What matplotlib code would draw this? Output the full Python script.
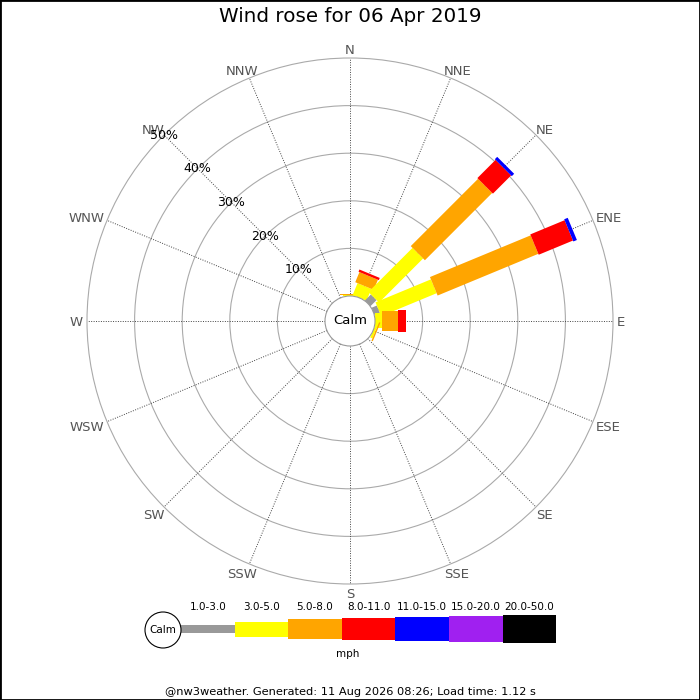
import numpy as np
import matplotlib.pyplot as plt
from matplotlib.patches import Polygon, Circle, Rectangle

# Wind directions and speed bins (mph)
directions = ['N', 'NNE', 'NE', 'ENE', 'E', 'ESE', 'SE', 'SSE',
              'S', 'SSW', 'SW', 'WSW', 'W', 'WNW', 'NW', 'NNW']
speed_bins = ['1.0-3.0', '3.0-5.0', '5.0-8.0', '8.0-11.0',
              '11.0-15.0', '15.0-20.0', '20.0-50.0']
bin_colors = ['#999999', '#ffff00', '#ffa500', '#ff0000',
              '#0000ff', '#a020f0', '#000000']
bin_widths_px = [8, 15, 20, 22, 24, 26, 28]

# Frequency (% of time) per direction for each speed bin
pct_1_3 = [0, 0, 1.8, 1.2, 0, 0, 0, 0, 0, 0, 0, 0, 0, 0, 0, 0]
pct_3_5 = [0.15, 2.7, 13.1, 12.6, 1.5, 0.5, 0, 0, 0, 0, 0, 0, 0, 0, 0, 0]
pct_5_8 = [0.35, 2.3, 20.0, 22.9, 3.4, 0.3, 0, 0, 0, 0, 0, 0, 0, 0, 0, 0]
pct_8_11 = [0, 0.5, 5.4, 7.8, 1.6, 0, 0, 0, 0, 0, 0, 0, 0, 0, 0, 0]
pct_11_15 = [0, 0, 0.7, 0.8, 0, 0, 0, 0, 0, 0, 0, 0, 0, 0, 0, 0]
pct_15_20 = [0] * 16
pct_20_50 = [0] * 16
ring_pcts = [10, 20, 30, 40, 50]

title = 'Wind rose for 06 Apr 2019'
footer = '@nw3weather. Generated: 11 Aug 2026 08:26; Load time: 1.12 s'

series = np.array([pct_1_3, pct_3_5, pct_5_8, pct_8_11,
                   pct_11_15, pct_15_20, pct_20_50])

# pixels per 1 % and layout in pixels
PX = 4.76
CX, CY = 350, 321
CALM = 25 / PX

fig = plt.figure(figsize=(7, 7), dpi=100)
fig.patch.set_facecolor('white')

ax = fig.add_axes([0, 0, 1, 1])
ax.set_xlim(-CX / PX, (700 - CX) / PX)
ax.set_ylim(-(700 - CY) / PX, CY / PX)
ax.axis('off')

# rings
for rp in ring_pcts:
    ax.add_patch(Circle((0, 0), CALM + rp, fill=False, ec='#aaaaaa', lw=0.8, zorder=1))

# spokes and direction labels
rmax = CALM + max(ring_pcts)
dir_labels = []
for i, d in enumerate(directions):
    th = np.radians(i * 22.5)
    ux, uy = np.sin(th), np.cos(th)
    ax.plot([CALM * ux, rmax * ux], [CALM * uy, rmax * uy], color='#444444',
            lw=0.7, ls=(0, (1, 1.5)), zorder=2)
    rl = rmax + 4 / PX
    t = ax.text(rl * ux, rl * uy, d, ha='center', va='center', fontsize=9.5,
                color='#555555', zorder=3)
    dir_labels.append((t, ux, uy))

# bars
for i in range(len(directions)):
    th = np.radians(i * 22.5)
    u = np.array([np.sin(th), np.cos(th)])
    p = np.array([np.cos(th), -np.sin(th)])
    r0 = CALM
    for b in range(len(speed_bins)):
        v = series[b, i]
        if v <= 0:
            continue
        r1 = r0 + v
        h = bin_widths_px[b] / PX / 2
        pts = [r0 * u + h * p, r1 * u + h * p, r1 * u - h * p, r0 * u - h * p]
        ax.add_patch(Polygon(pts, closed=True, fc=bin_colors[b], ec='none', zorder=4))
        r0 = r1

# ring labels along NW
thl = np.radians(315)
for rp in ring_pcts:
    r = CALM + rp
    ax.text(r * np.sin(thl), r * np.cos(thl), f'{rp}%', ha='center', va='center',
            fontsize=9, color='black', zorder=5)

# calm circle
ax.add_patch(Circle((0, 0), CALM, fc='white', ec='#999999', lw=0.8, zorder=6))
ax.text(0, 0, 'Calm', ha='center', va='center', fontsize=9.5, zorder=7)

# legend in pixel coordinates
lax = fig.add_axes([0, 0, 1, 1], facecolor='none')
lax.set_xlim(0, 700)
lax.set_ylim(700, 0)
lax.axis('off')

lcx, lcy, lr = 163, 630, 18
seg = 53.6
lax.add_patch(Circle((lcx, lcy), lr, fc='white', ec='black', lw=0.8, zorder=3))
lax.text(lcx, lcy, 'Calm', ha='center', va='center', fontsize=7.5)
for b, lab in enumerate(speed_bins):
    x0 = lcx + lr + b * seg
    hh = bin_widths_px[b]
    lax.add_patch(Rectangle((x0, 629 - hh / 2), seg, hh, fc=bin_colors[b], ec='none'))
    lax.text(x0 + seg / 2, 607, lab, ha='center', va='center', fontsize=7.5)
lax.text(348, 654, 'mph', ha='center', va='center', fontsize=7.5)
lax.text(350, 692, footer, ha='center', va='center', fontsize=8.2)

fig.text(0.5, 1 - 17 / 700, title, ha='center', va='center', fontsize=14.3)

fig.add_artist(Rectangle((0, 0), 1, 1, transform=fig.transFigure, fill=False,
                         ec='black', lw=2))

# push direction labels outward by half their size
fig.canvas.draw()
for t, ux, uy in dir_labels:
    bb = t.get_window_extent()
    x, y = t.get_position()
    t.set_position((x + ux * bb.width / 2 / PX,
                    y + uy * (bb.height - 3) / 2 / PX - 2 / PX))

fig.savefig('out.png', dpi=100)
